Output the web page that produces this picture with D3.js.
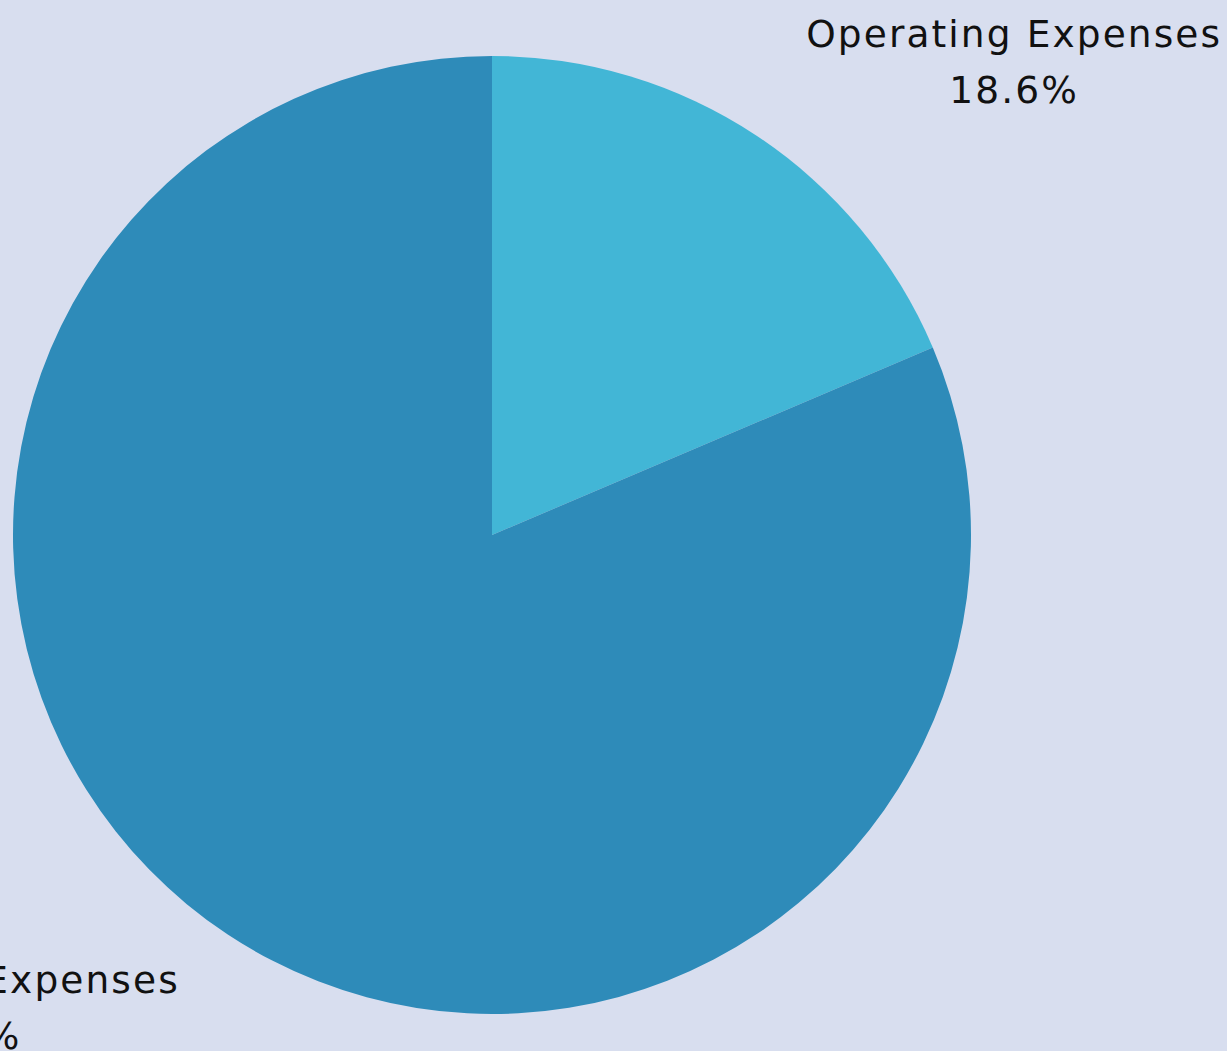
<!DOCTYPE html>
<html>
<head>
<meta charset="utf-8">
<script src="https://cdn.jsdelivr.net/npm/d3@7"></script>
<style>
  html, body { margin: 0; padding: 0; background: #d8deef; overflow: hidden; }
  svg { display: block; }
</style>
</head>
<body>
<div id="chart"></div>
<script>
// data
const categories = ["Operating Expenses", "Programme Expenses"];
const values = [18.6, 81.4];
const sliceColors = ["#42b6d6", "#2e8bb9"];

const width = 1227;
const height = 1051;
const cx = 492;
const cy = 535;
const radius = 479;

const svg = d3
  .select("#chart")
  .append("svg")
  .attr("width", width)
  .attr("height", height);

svg
  .append("rect")
  .attr("width", width)
  .attr("height", height)
  .attr("fill", "#d8deef");

const rows = categories.map((c, i) => ({ label: c, value: values[i], color: sliceColors[i] }));

const pie = d3.pie().sort(null).value((d) => d.value);
const arc = d3.arc().innerRadius(0).outerRadius(radius);
const arcs = pie(rows);

const g = svg.append("g").attr("transform", `translate(${cx}, ${cy})`);

g.selectAll("path.slice")
  .data(arcs)
  .enter()
  .append("path")
  .attr("class", "slice")
  .attr("d", arc)
  .attr("fill", (d) => d.data.color);

// outside labels: corner of the text block sits next to the slice's mid point
const lineGap = 56;
arcs.forEach((d) => {
  const mid = (d.startAngle + d.endAngle) / 2;
  const px = radius * Math.sin(mid);
  const py = -radius * Math.cos(mid);
  const right = px >= 0;
  const below = py >= 0;

  const label = g
    .append("text")
    .attr("text-anchor", "middle")
    .style("font-family", "'DejaVu Sans', sans-serif")
    .style("font-size", "37.5px")
    .style("letter-spacing", "2.1px")
    .attr("fill", "#111");

  const t1 = label.append("tspan").text(d.data.label);
  const t2 = label.append("tspan").text(d.data.value.toFixed(1) + "%");

  const w = Math.max(t1.node().getComputedTextLength(), t2.node().getComputedTextLength());
  const cornerX = px + (right ? 50 : -48);
  const centerX = right ? cornerX + w / 2 : cornerX - w / 2;
  // first baseline
  const base1 = below ? py + 58 : py - 88;

  t1.attr("x", centerX).attr("y", base1);
  t2.attr("x", centerX).attr("y", base1 + lineGap);
});
</script>
</body>
</html>
